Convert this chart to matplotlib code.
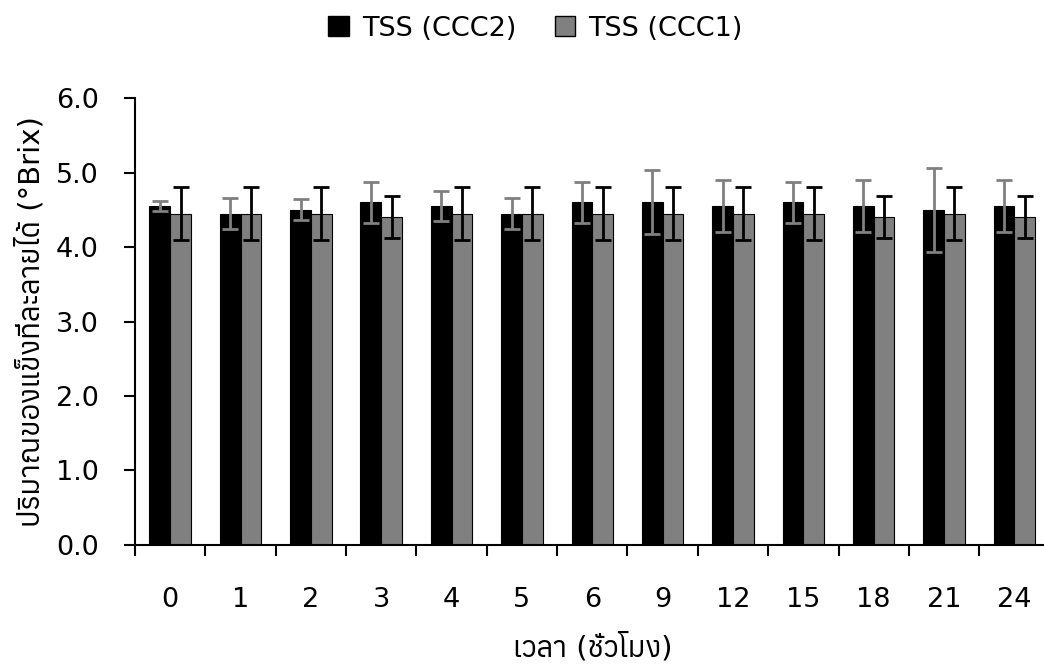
import matplotlib
matplotlib.use('Agg')
import matplotlib.pyplot as plt
import numpy as np
from matplotlib import font_manager
from matplotlib.ft2font import FT2Font
from matplotlib.patches import Patch

# Data (°Brix, mean and +/- error)
hours = ['0', '1', '2', '3', '4', '5', '6', '9', '12', '15', '18', '21', '24']
ccc2 = [4.55, 4.45, 4.50, 4.60, 4.55, 4.45, 4.60, 4.60, 4.55, 4.60, 4.55, 4.50, 4.55]
ccc2_err = [0.07, 0.21, 0.14, 0.28, 0.20, 0.21, 0.28, 0.43, 0.35, 0.28, 0.35, 0.56, 0.35]
ccc1 = [4.45, 4.45, 4.45, 4.40, 4.45, 4.45, 4.45, 4.45, 4.45, 4.45, 4.40, 4.45, 4.40]
ccc1_err = [0.35, 0.35, 0.35, 0.28, 0.35, 0.35, 0.35, 0.35, 0.35, 0.35, 0.28, 0.35, 0.28]
yticks = [0, 1, 2, 3, 4, 5, 6]


def has_thai(path):
    try:
        return ord('ก') in FT2Font(path).get_charmap()
    except Exception:
        return False


# find any installed family that can draw Thai, use it as fallback
thai_fonts = sorted({f.name for f in font_manager.fontManager.ttflist if has_thai(f.fname)})
plt.rcParams['font.family'] = ['DejaVu Sans'] + thai_fonts[:1]

FS = 19.5
FS_TH = 21
fig = plt.figure(figsize=(10.44, 6.65), dpi=100)
ax = fig.add_axes([0.1293, 0.1805, 0.8761, 0.672])

x = np.arange(len(hours))
w = 0.295
ax.bar(x - w / 2, ccc2, w, color='black', edgecolor='black', linewidth=0.8,
       yerr=ccc2_err, error_kw=dict(ecolor='#808080', elinewidth=2, capsize=6, capthick=2))
ax.bar(x + w / 2, ccc1, w, color='#808080', edgecolor='black', linewidth=0.8,
       yerr=ccc1_err, error_kw=dict(ecolor='black', elinewidth=2, capsize=6, capthick=2))

ax.set_xlim(-0.5, len(hours) - 0.5)
ax.set_ylim(0, 6)
ax.set_yticks(yticks)
ax.set_yticklabels([f'{v:.1f}' for v in yticks])
ax.set_xticks(x)
ax.set_xticklabels(hours)
ax.set_xticks(np.arange(len(hours) + 1) - 0.5, minor=True)

ax.tick_params(axis='x', which='major', length=0, pad=30, labelsize=FS)
ax.tick_params(axis='x', which='minor', length=8, width=1.5, direction='out')
ax.tick_params(axis='y', length=8, width=1.5, direction='out', pad=18, labelsize=FS)

for s in ['top', 'right']:
    ax.spines[s].set_visible(False)
for s in ['left', 'bottom']:
    ax.spines[s].set_linewidth(1.5)

ax.set_xlabel('เวลา (ชั่วโมง)', fontsize=FS_TH)
ax.xaxis.set_label_coords(0.5, -0.197)
ax.set_ylabel('ปริมาณของแข็งที่ละลายได้ (°Brix)', fontsize=FS_TH)
ax.yaxis.set_label_coords(-0.098, 0.5)

handles = [Patch(facecolor='black', edgecolor='black'),
           Patch(facecolor='#808080', edgecolor='black')]
fig.legend(handles, ['TSS (CCC2)', 'TSS (CCC1)'], loc='center', bbox_to_anchor=(0.513, 0.957),
           ncol=2, frameon=False, fontsize=FS, handlelength=0.75, handleheight=0.75,
           handletextpad=0.5, columnspacing=1.4)

fig.savefig('out.png', dpi=100)
